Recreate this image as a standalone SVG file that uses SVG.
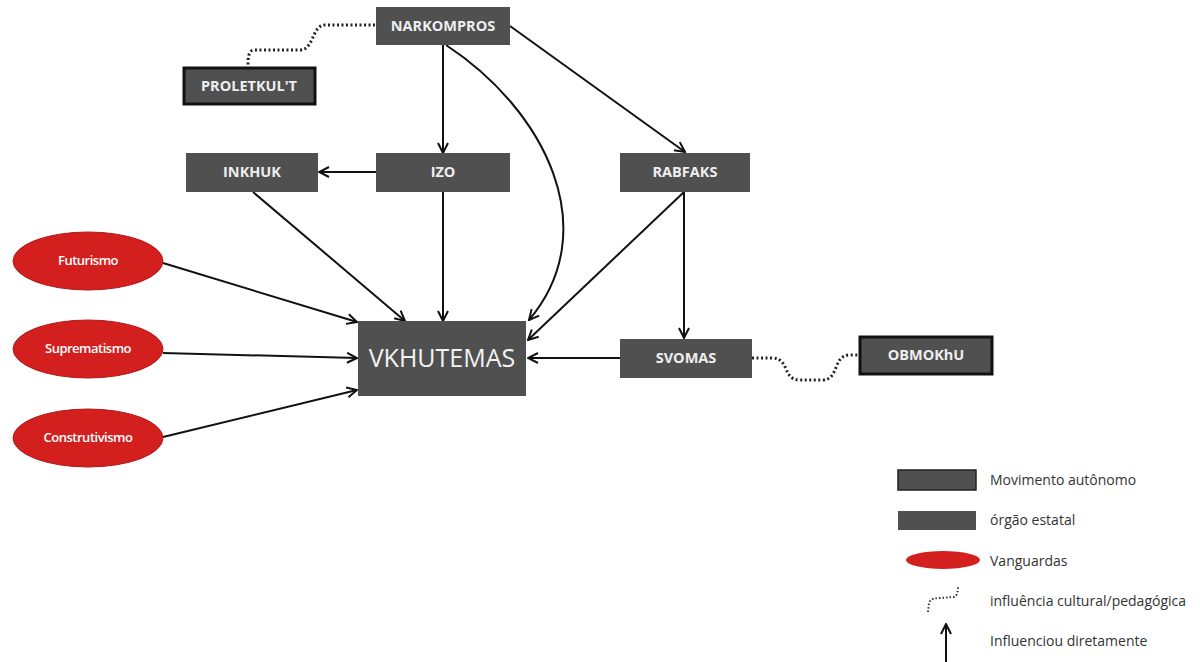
<svg xmlns="http://www.w3.org/2000/svg" width="1200" height="662" viewBox="0 0 1200 662">
<defs>
<marker id="arr" viewBox="0 0 12 12" refX="11" refY="6" markerWidth="12" markerHeight="12" markerUnits="userSpaceOnUse" orient="auto">
<polyline points="1,1 11,6 1,11" fill="none" stroke="#111" stroke-width="2"/>
</marker>
<style>
.box{fill:#505050}
.auto{fill:#505050;stroke:#111;stroke-width:3}
.lbl{font-family:"Open Sans","DejaVu Sans",sans-serif;font-weight:700;font-size:14.5px;fill:#eee;text-anchor:middle}
.ell{fill:#d41f1f;stroke:#b01818;stroke-width:1}
.elbl{font-family:"Open Sans","DejaVu Sans",sans-serif;font-weight:600;font-size:13px;fill:#fff;text-anchor:middle;letter-spacing:-0.5px}
.con{fill:none;stroke:#111;stroke-width:2;marker-end:url(#arr)}
.dot{fill:none;stroke:#222;stroke-width:3;stroke-dasharray:2 2.5}
.leg{font-family:"Open Sans","DejaVu Sans",sans-serif;font-size:14px;fill:#333}
</style>
</defs>
<rect width="1200" height="662" fill="#fff"/>
<g id="connectors">
<line class="con" x1="443" y1="45" x2="443" y2="153"/>
<path class="con" d="M446,45 C545,110 605,230 529,320"/>
<line class="con" x1="510" y1="26" x2="685" y2="152"/>
<line class="con" x1="376" y1="172" x2="319" y2="172"/>
<line class="con" x1="253" y1="192" x2="405" y2="321"/>
<line class="con" x1="443" y1="192" x2="443" y2="321"/>
<line class="con" x1="684" y1="192" x2="528" y2="340"/>
<line class="con" x1="684" y1="192" x2="684" y2="338"/>
<line class="con" x1="620" y1="358" x2="528" y2="358"/>
<line class="con" x1="163" y1="263" x2="357" y2="322"/>
<line class="con" x1="163" y1="353" x2="357" y2="358"/>
<line class="con" x1="163" y1="437" x2="357" y2="390"/>
<path class="dot" d="M375,25 L325,25 C312,25 314,50 300,50 L255,50 C248,50 248,58 248,67"/>
<path class="dot" d="M752,358 L772,358 C790,358 782,380 800,380 L822,380 C840,380 832,355 850,355 L859,355"/>
</g>
<g id="narkompros"><rect class="box" x="376" y="7" width="134" height="38"/><text class="lbl" x="443" y="31">NARKOMPROS</text></g>
<g id="proletkult"><rect class="auto" x="184" y="68" width="131" height="36"/><text class="lbl" x="249" y="91">PROLETKUL'T</text></g>
<g id="inkhuk"><rect class="box" x="186" y="153" width="132" height="39"/><text class="lbl" x="252" y="177">INKHUK</text></g>
<g id="izo"><rect class="box" x="376" y="153" width="134" height="39"/><text class="lbl" x="443" y="177">IZO</text></g>
<g id="rabfaks"><rect class="box" x="620" y="153" width="130" height="39"/><text class="lbl" x="685" y="177">RABFAKS</text></g>
<g id="vkhutemas"><rect class="box" x="358" y="321" width="168" height="75"/><text x="442" y="367" text-anchor="middle" font-family="'Open Sans','DejaVu Sans',sans-serif" font-size="25" fill="#f2f2f2">VKHUTEMAS</text></g>
<g id="svomas"><rect class="box" x="620" y="339" width="132" height="39"/><text class="lbl" x="686" y="363">SVOMAS</text></g>
<g id="obmokhu"><rect class="auto" x="860" y="337" width="132" height="37"/><text class="lbl" x="926" y="360">OBMOKhU</text></g>
<g id="futurismo"><ellipse class="ell" cx="88" cy="261" rx="75" ry="29"/><text class="elbl" x="88" y="265">Futurismo</text></g>
<g id="suprematismo"><ellipse class="ell" cx="88" cy="349" rx="75" ry="29"/><text class="elbl" x="88" y="353">Suprematismo</text></g>
<g id="construtivismo"><ellipse class="ell" cx="88" cy="438" rx="75" ry="29"/><text class="elbl" x="88" y="442">Construtivismo</text></g>
<g id="legend">
<rect x="898" y="470" width="78" height="20" fill="#505050" stroke="#222" stroke-width="1.5"/>
<text class="leg" x="990" y="485">Movimento autônomo</text>
<rect x="898" y="511" width="78" height="19" fill="#505050"/>
<text class="leg" x="990" y="525">órgão estatal</text>
<ellipse cx="943" cy="560" rx="37" ry="9" fill="#d41f1f"/>
<text class="leg" x="990" y="566">Vanguardas</text>
<path d="M928,612 L929,603 C930,599 935,598 940,598 L953,597 C957,597 958,592 958,586" fill="none" stroke="#333" stroke-width="2" stroke-dasharray="1.5 2"/>
<text class="leg" x="990" y="606">influência cultural/pedagógica</text>
<line x1="946" y1="662" x2="946" y2="624" stroke="#111" stroke-width="2" marker-end="url(#arr)"/>
<text class="leg" x="990" y="646">Influenciou diretamente</text>
</g>
</svg>
